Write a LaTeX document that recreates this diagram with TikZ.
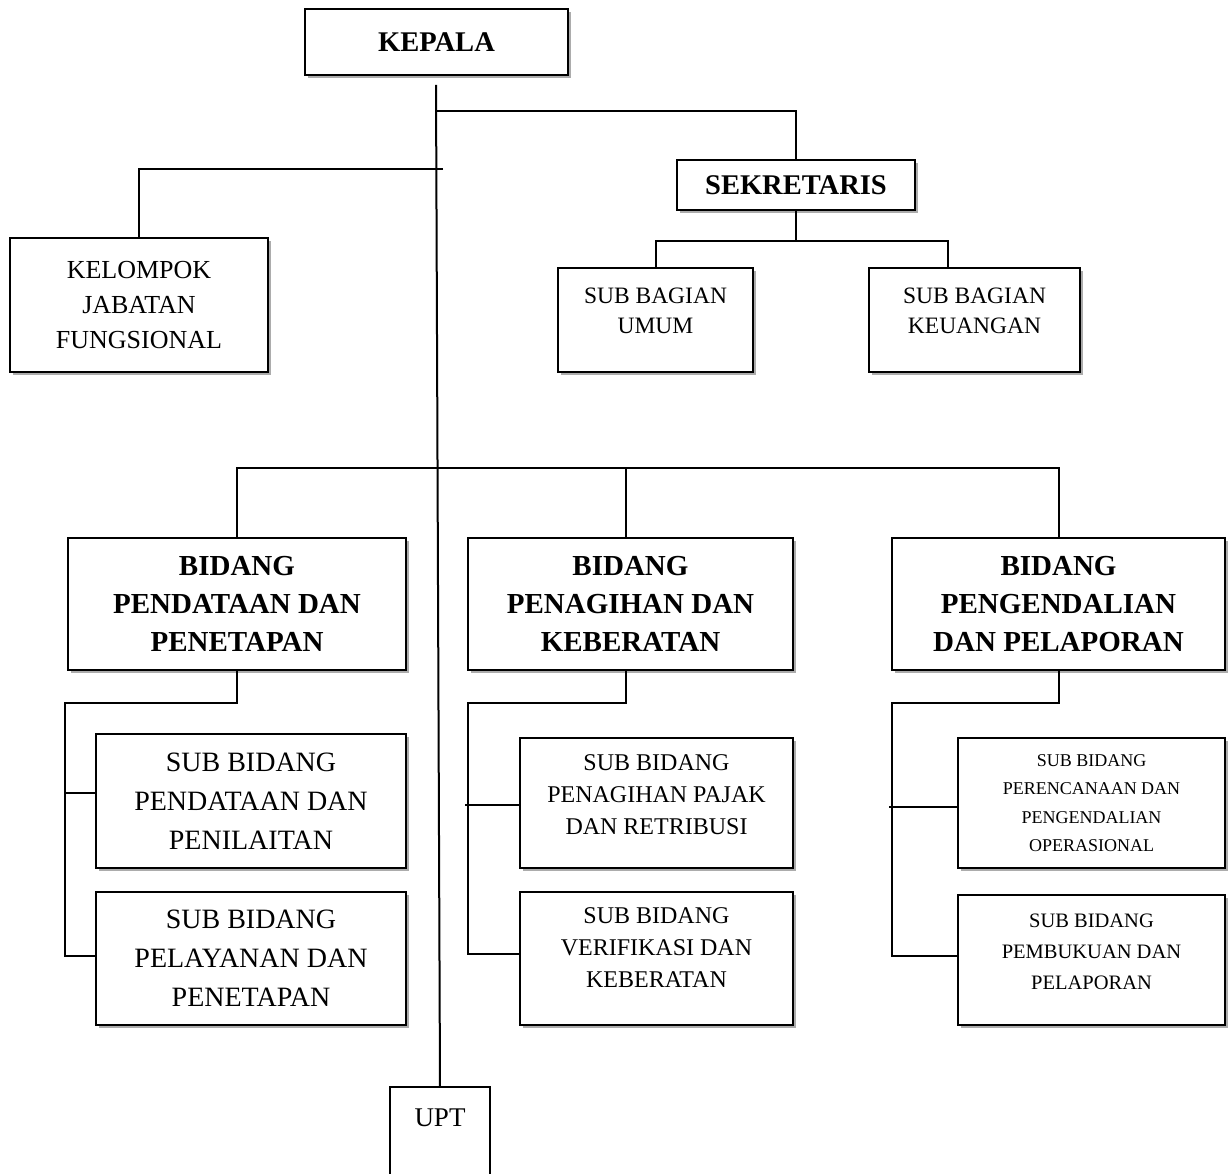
\documentclass[tikz,border=0pt]{standalone}
\usepackage{fontspec}
\setmainfont{Liberation Serif}
\usetikzlibrary{shadows}
\newcommand{\myfs}[2]{\fontsize{#1pt}{#2pt}\selectfont}
\begin{document}
\begin{tikzpicture}[x=1pt,y=-1pt,
  box/.style={draw, line width=2.1pt, fill=white, inner sep=0pt, align=center,
    general shadow={fill=gray!65, shadow xshift=3pt, shadow yshift=-3pt}},
  lbl/.style={align=center, inner sep=0pt},
  ln/.style={line width=2pt}]
\useasboundingbox (0,0) rectangle (1232,1174);

% boxes
\node[box, minimum width=263pt, minimum height=66pt, font=\myfs{28.5}{34}\bfseries] (kepala) at (436.5,42) {KEPALA};
\node[box, minimum width=258pt, minimum height=134pt, font=\myfs{26}{35}] (kelompok) at (139,305) {KELOMPOK\\JABATAN\\FUNGSIONAL};
\node[box, minimum width=238pt, minimum height=50pt, font=\myfs{28.5}{34}\bfseries] (sekretaris) at (796,185) {SEKRETARIS};
\node[box, minimum width=195pt, minimum height=104pt] (umum) at (655.5,320) {};
\node[lbl, font=\myfs{23.5}{30}] (umumtxt) at (655.5,311) {SUB BAGIAN\\UMUM};
\node[box, minimum width=211pt, minimum height=104pt] (keuangan) at (974.5,320) {};
\node[lbl, font=\myfs{23.5}{30}] (keutxt) at (974.5,311) {SUB BAGIAN\\KEUANGAN};

\node[box, minimum width=338pt, minimum height=132pt, font=\myfs{29}{38}\bfseries] (bid1) at (237,604) {BIDANG\\PENDATAAN DAN\\PENETAPAN};
\node[box, minimum width=325pt, minimum height=132pt, font=\myfs{29}{38}\bfseries] (bid2) at (630.5,604) {BIDANG\\PENAGIHAN DAN\\KEBERATAN};
\node[box, minimum width=333pt, minimum height=132pt, font=\myfs{29}{38}\bfseries] (bid3) at (1058.5,604) {BIDANG\\PENGENDALIAN\\DAN PELAPORAN};

\node[box, minimum width=310pt, minimum height=134pt, font=\myfs{28}{39}] (s11) at (251,801) {SUB BIDANG\\PENDATAAN DAN\\PENILAITAN};
\node[box, minimum width=310pt, minimum height=133pt, font=\myfs{28}{39}] (s12) at (251,958.5) {SUB BIDANG\\PELAYANAN DAN\\PENETAPAN};

\node[box, minimum width=273pt, minimum height=130pt] (s21) at (656.5,803) {};
\node[lbl, font=\myfs{24}{32}] (s21txt) at (656.5,795) {SUB BIDANG\\PENAGIHAN PAJAK\\DAN RETRIBUSI};
\node[box, minimum width=273pt, minimum height=133pt] (s22) at (656.5,958.5) {};
\node[lbl, font=\myfs{24}{32}] (s22txt) at (656.5,948) {SUB BIDANG\\VERIFIKASI DAN\\KEBERATAN};

\node[box, minimum width=267pt, minimum height=130pt, font=\myfs{18}{28.5}] (s31) at (1091.5,803) {SUB BIDANG\\PERENCANAAN DAN\\PENGENDALIAN\\OPERASIONAL};
\node[box, minimum width=267pt, minimum height=130pt] (s32) at (1091.5,960) {};
\node[lbl, font=\myfs{20.5}{31}] (s32txt) at (1091.5,952) {SUB BIDANG\\PEMBUKUAN DAN\\PELAPORAN};

\node[minimum width=100pt, minimum height=62pt, inner sep=0pt, anchor=north, font=\myfs{27}{32}] (upt) at (440,1087) {UPT};
\draw[ln] ([yshift=-40pt]upt.south west) -- (upt.north west) -- (upt.north east) -- ([yshift=-40pt]upt.south east);

% spine
\coordinate (top) at (436,85);
\draw[ln] (top) -- (upt.north);

% sekretaris branch
\coordinate (j1) at (436,111);
\draw[ln] (j1) -| (sekretaris.north);

% kelompok branch
\coordinate (kj) at (443,169);
\draw[ln] (kj) -| (kelompok.north);

% sekretaris to sub bagian
\coordinate (sj) at (796,241);
\coordinate (keuin) at (948,268);
\draw[ln] (sekretaris.south) -- (sj);
\draw[ln] (umum.north) |- (sj) -| (keuin);

% bidang bar
\coordinate (hb) at (0,468);
\coordinate (b2in) at (626,538);
\draw[ln] (bid1.north) -- (bid1.north |- hb) -- (bid3.north |- hb) -- (bid3.north);
\draw[ln] (b2in) -- (b2in |- hb);

% left sub
\coordinate (l1) at (65,703);
\coordinate (l2) at (65,956);
\coordinate (lm) at (65,793);
\draw[ln] (bid1.south) |- (l1) -- (l2) -- (l2 -| s12.west);
\draw[ln] (lm) -- (lm -| s11.west);

% middle sub
\coordinate (b2out) at (626,670);
\coordinate (m1) at (468,703);
\coordinate (m2) at (468,954);
\coordinate (mm) at (465,805);
\draw[ln] (b2out) |- (m1) -- (m2) -- ([xshift=2pt]m2 -| s22.west);
\draw[ln] (mm) -- (mm -| s21.west);

% right sub
\coordinate (r1) at (892,703);
\coordinate (r2) at (892,956);
\coordinate (rm) at (889,807);
\draw[ln] (bid3.south) |- (r1) -- (r2) -- ([xshift=2pt]r2 -| s32.west);
\draw[ln] (rm) -- (rm -| s31.west);
\end{tikzpicture}
\end{document}
